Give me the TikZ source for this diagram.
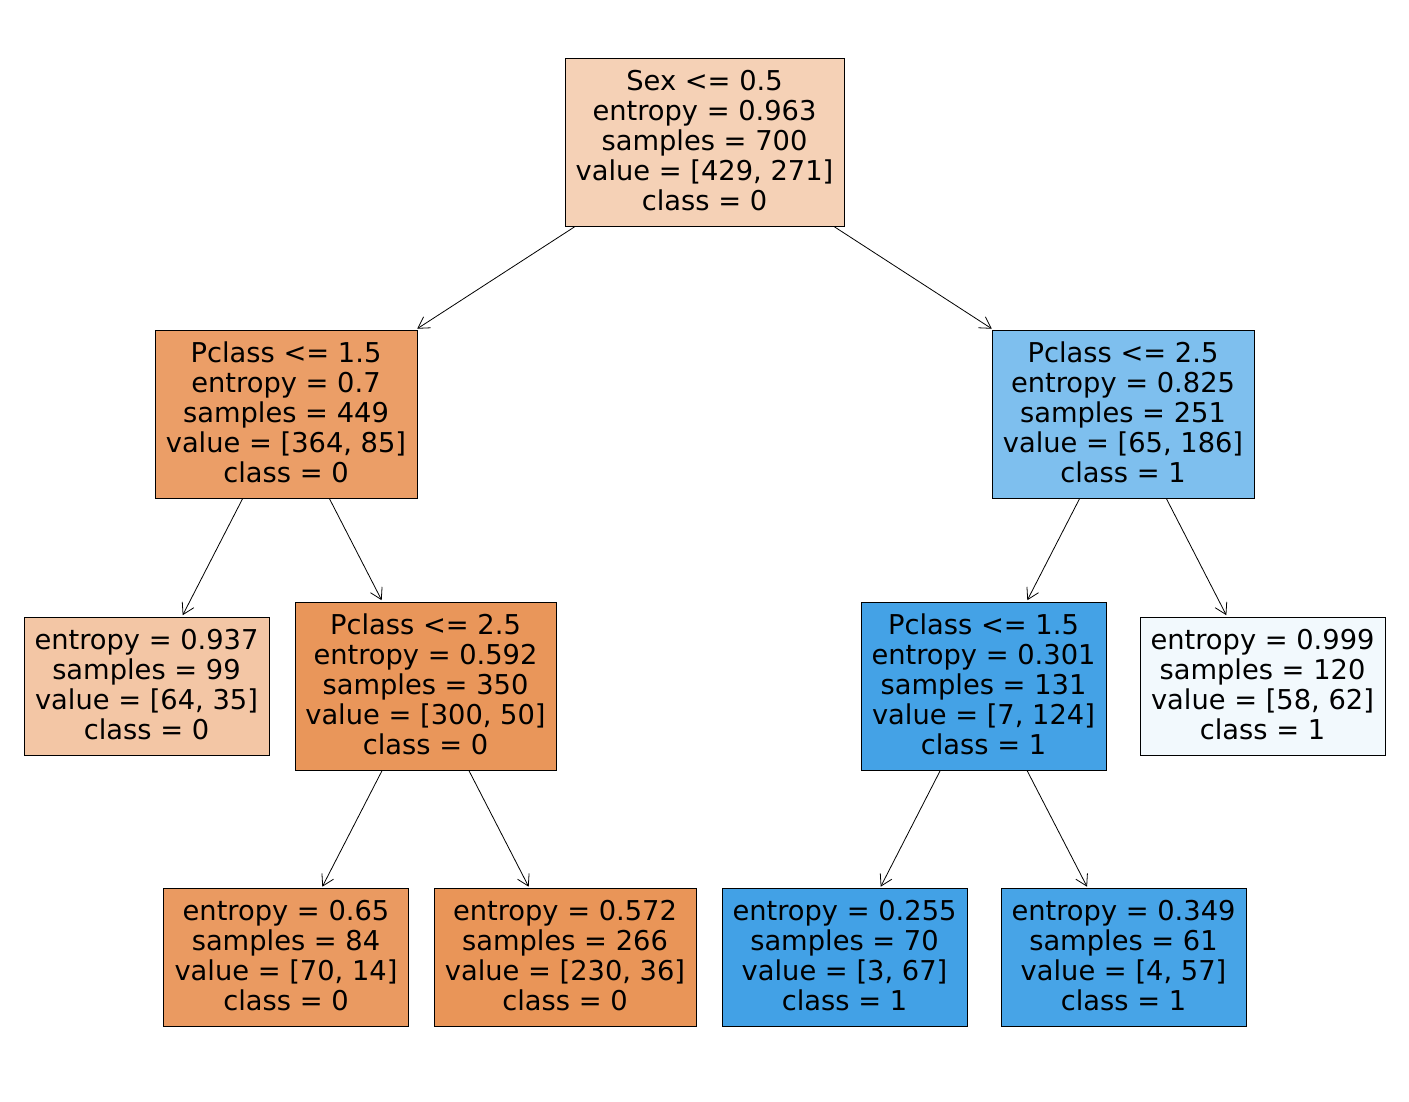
\documentclass[tikz,border=0pt]{standalone}
\usepackage{fontspec}
\setmainfont{DejaVu Sans}
\usetikzlibrary{arrows.meta}

% Node fill colours: orange for class 0, blue for class 1, lighter when less pure
\definecolor{nroot}{RGB}{245,209,182}
\definecolor{nl}{RGB}{235,158,103}
\definecolor{nr}{RGB}{126,191,238}
\definecolor{nll}{RGB}{243,198,165}
\definecolor{nlr}{RGB}{233,150,90}
\definecolor{nrl}{RGB}{68,162,230}
\definecolor{nrr}{RGB}{242,249,253}
\definecolor{nlrl}{RGB}{234,154,97}
\definecolor{nlrr}{RGB}{233,149,88}
\definecolor{nrll}{RGB}{66,161,230}
\definecolor{nrlr}{RGB}{71,164,231}

\tikzset{
  treenode/.style={draw=black, line width=0.9pt, inner sep=0pt, align=center,
    font=\fontsize{27.3}{30}\selectfont,
    execute at end node={\rule[-4pt]{0pt}{0pt}}},
  split/.style={treenode, minimum height=168pt},
  leaf/.style={treenode, minimum height=138pt, minimum width=245pt},
  edge/.style={line width=0.8pt, -{Straight Barb[length=11pt,width=13pt,line width=0.8pt]}, shorten >=1.5pt}
}

\begin{document}
\begin{tikzpicture}[x=1pt,y=-1pt]
  \useasboundingbox (0,0) rectangle (1409,1101);
  \fill[white] (0,0) rectangle (1409,1101);

  \node[split, fill=nroot, minimum width=279pt] (root) at (704.5,142.5)
    {Sex <= 0.5\\entropy = 0.963\\samples = 700\\value = [429, 271]\\class = 0};

  \node[split, fill=nl, minimum width=262pt] (l) at (286,414)
    {Pclass <= 1.5\\entropy = 0.7\\samples = 449\\value = [364, 85]\\class = 0};
  \node[split, fill=nr, minimum width=262pt] (r) at (1123,414)
    {Pclass <= 2.5\\entropy = 0.825\\samples = 251\\value = [65, 186]\\class = 1};

  \node[leaf, fill=nll] (ll) at (146.5,686)
    {entropy = 0.937\\samples = 99\\value = [64, 35]\\class = 0};
  \node[split, fill=nlr, minimum width=261pt] (lr) at (425.5,686)
    {Pclass <= 2.5\\entropy = 0.592\\samples = 350\\value = [300, 50]\\class = 0};
  \node[split, fill=nrl, minimum width=245pt] (rl) at (983.5,686)
    {Pclass <= 1.5\\entropy = 0.301\\samples = 131\\value = [7, 124]\\class = 1};
  \node[leaf, fill=nrr] (rr) at (1262.5,686)
    {entropy = 0.999\\samples = 120\\value = [58, 62]\\class = 1};

  \node[leaf, fill=nlrl] (lrl) at (286,957.5)
    {entropy = 0.65\\samples = 84\\value = [70, 14]\\class = 0};
  \node[leaf, fill=nlrr, minimum width=262pt] (lrr) at (565,957.5)
    {entropy = 0.572\\samples = 266\\value = [230, 36]\\class = 0};
  \node[leaf, fill=nrll] (rll) at (844.5,957.5)
    {entropy = 0.255\\samples = 70\\value = [3, 67]\\class = 1};
  \node[leaf, fill=nrlr] (rlr) at (1123.5,957.5)
    {entropy = 0.349\\samples = 61\\value = [4, 57]\\class = 1};

  \draw[edge] (root) -- (l);
  \draw[edge] (root) -- (r);
  \draw[edge] (l) -- (ll);
  \draw[edge] (l) -- (lr);
  \draw[edge] (r) -- (rl);
  \draw[edge] (r) -- (rr);
  \draw[edge] (lr) -- (lrl);
  \draw[edge] (lr) -- (lrr);
  \draw[edge] (rl) -- (rll);
  \draw[edge] (rl) -- (rlr);
\end{tikzpicture}
\end{document}
